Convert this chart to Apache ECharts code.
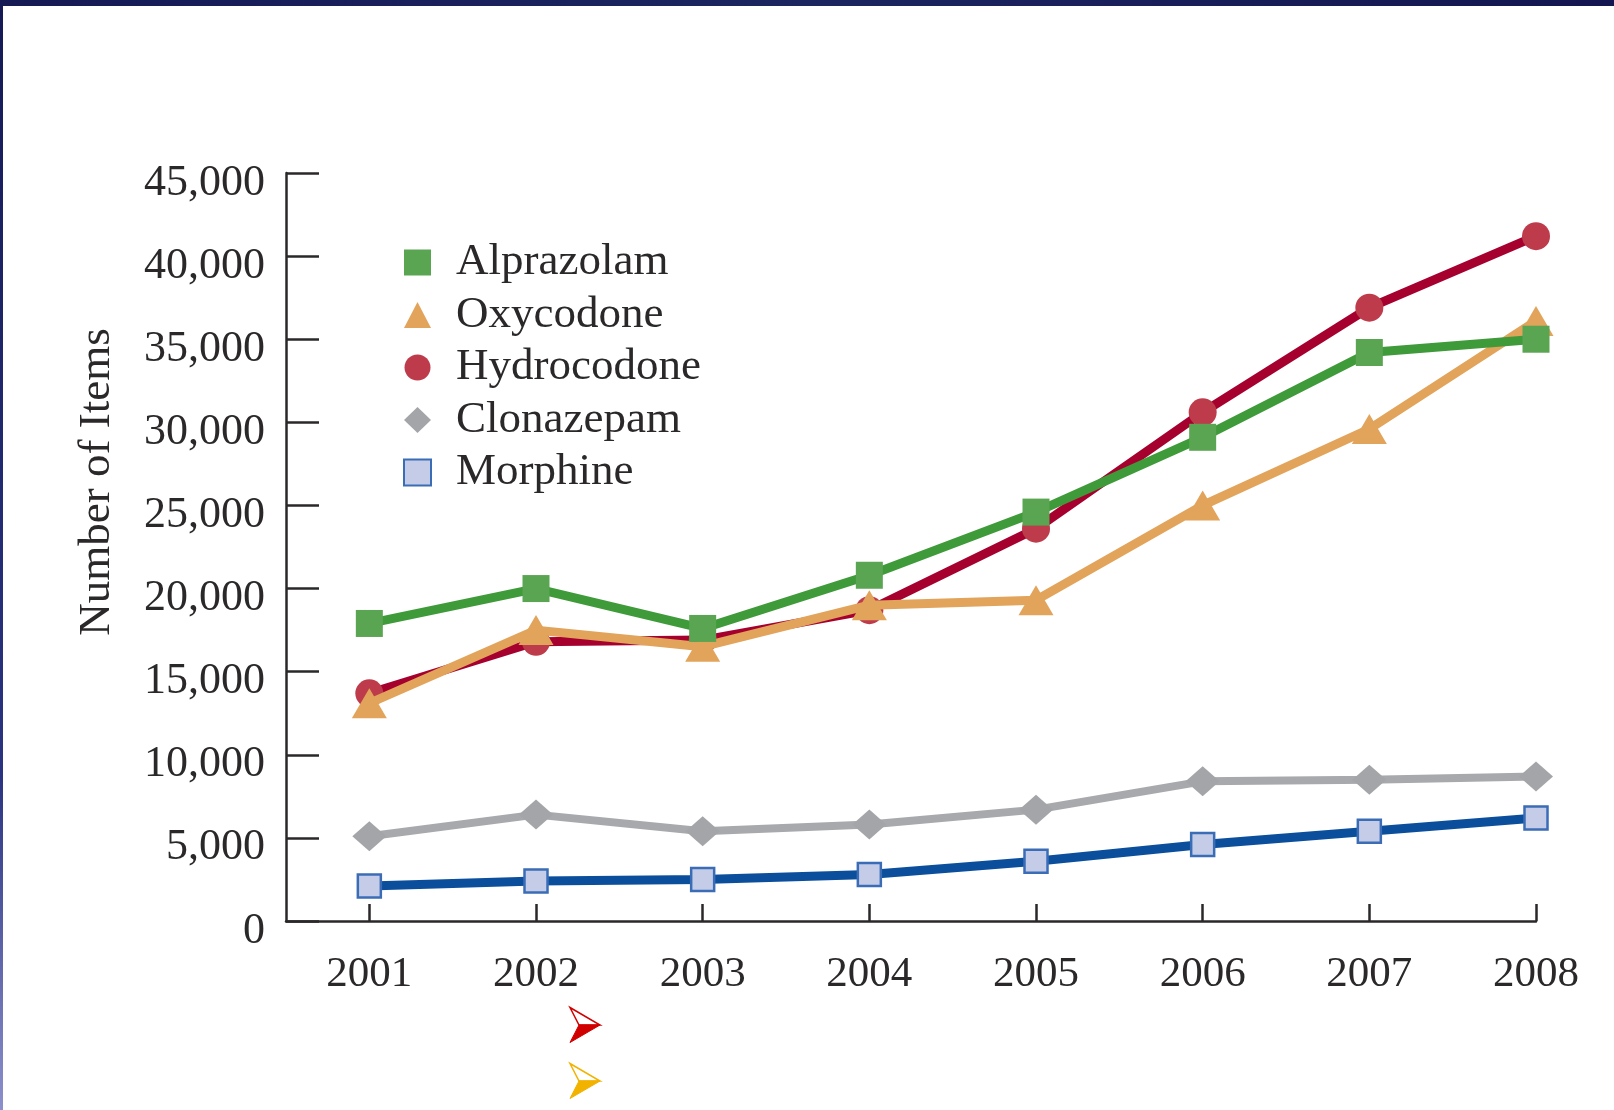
<!DOCTYPE html>
<html>
<head>
<meta charset="utf-8">
<title>Number of Items, 2001–2008</title>
<script src="https://cdn.jsdelivr.net/npm/echarts@6/dist/echarts.min.js"></script>
<style>
  html, body { margin: 0; padding: 0; background: #ffffff; }
  #chart { width: 1614px; height: 1110px; }
</style>
</head>
<body>
<div id="chart"></div>
<script>
// Years on the horizontal axis
const years = [2001, 2002, 2003, 2004, 2005, 2006, 2007, 2008];

// Number of items per drug and year
const alprazolam  = [17900, 20000, 17600, 20800, 24600, 29100, 34200, 35000];
const oxycodone   = [13100, 17500, 16500, 19000, 19300, 25000, 29600, 36100];
const hydrocodone = [13700, 16800, 16900, 18700, 23600, 30600, 36900, 41200];
const clonazepam  = [5100, 6400, 5400, 5800, 6700, 8400, 8500, 8700];
const morphine    = [2100, 2400, 2500, 2800, 3600, 4600, 5400, 6200];

// Vertical axis ticks
const yTicks = [0, 5000, 10000, 15000, 20000, 25000, 30000, 35000, 40000, 45000];

// Legend entries, top to bottom, with their marker shapes
const legendOrder = ['Alprazolam', 'Oxycodone', 'Hydrocodone', 'Clonazepam', 'Morphine'];
const legendIcons = ['rect', 'triangle', 'circle', 'diamond', 'rect'];

const FONT = '"Liberation Serif", "DejaVu Serif", serif';
const INK = '#2b2829';

const pairs = arr => arr.map((v, i) => [years[i], v]);

const chart = echarts.init(document.getElementById('chart'), null, { renderer: 'canvas' });

function series(name, data, lineColor, lineWidth, symbol, size, itemStyle, z) {
  return {
    name, type: 'line', data: pairs(data), z,
    symbol, symbolSize: size, showSymbol: true,
    lineStyle: { color: lineColor, width: lineWidth },
    itemStyle,
    emphasis: { disabled: true },
    animation: false
  };
}

// Two-tone bullet arrowhead (outlined upper half, filled lower half)
function arrowHead(x, y, color) {
  const w = 30, h = 35, nx = 9;
  return [
    { type: 'polygon', shape: { points: [[x, y - h / 2], [x + w, y], [x + nx, y]] },
      style: { fill: '#ffffff', stroke: color, lineWidth: 1.5 } },
    { type: 'polygon', shape: { points: [[x + nx, y], [x + w, y], [x, y + h / 2]] },
      style: { fill: color, stroke: color, lineWidth: 1 } }
  ];
}

const option = {
  backgroundColor: '#ffffff',
  animation: false,
  textStyle: { fontFamily: FONT },
  grid: { left: 286, right: 78, top: 173, bottom: 189, containLabel: false },
  legend: {
    data: legendOrder.map((n, i) => ({ name: n, icon: legendIcons[i] })),
    orient: 'vertical',
    left: 398, top: 235,
    itemWidth: 27, itemHeight: 26, itemGap: 7.5,
    selectedMode: false,
    textStyle: { fontFamily: FONT, fontSize: 45, color: INK, lineHeight: 44, padding: [0, 0, 0, 20] }
  },
  xAxis: {
    type: 'value', min: 2000.5, max: 2008,
    axisLine: { show: true, lineStyle: { color: INK, width: 2.5 } },
    axisTick: { show: true, inside: true, length: 17, customValues: years,
                lineStyle: { color: INK, width: 2.5 } },
    axisLabel: { customValues: years, margin: 32, fontFamily: FONT, fontSize: 43, color: INK,
                 formatter: v => String(v) },
    splitLine: { show: false }
  },
  yAxis: {
    type: 'value', min: 0, max: 45000, interval: 5000,
    axisLine: { show: true, lineStyle: { color: INK, width: 2.5 } },
    axisTick: { show: true, inside: true, length: 33, customValues: yTicks,
                lineStyle: { color: INK, width: 2.5 } },
    axisLabel: { customValues: yTicks, margin: 21, fontFamily: FONT, fontSize: 44, color: INK,
                 verticalAlign: 'top', lineHeight: 20,
                 formatter: v => v.toLocaleString('en-US') },
    splitLine: { show: false }
  },
  series: [
    series('Morphine', morphine, '#0b4f9c', 9, 'rect', 23,
           { color: '#c4cce8', borderColor: '#3b6cb6', borderWidth: 2.5 }, 2),
    series('Clonazepam', clonazepam, '#a7a9ac', 8, 'diamond', [34, 30],
           { color: '#a3a5a8' }, 3),
    series('Hydrocodone', hydrocodone, '#a6002f', 9, 'circle', 28,
           { color: '#bd3b4a' }, 4),
    series('Oxycodone', oxycodone, '#e2a35b', 9, 'triangle', [35, 30],
           { color: '#e2a35b' }, 5),
    series('Alprazolam', alprazolam, '#3f9a3a', 9, 'rect', 27,
           { color: '#5aa552' }, 6)
  ],
  graphic: [
    // navy frame along the top and left edges
    { type: 'rect', left: 0, top: 0, shape: { width: 1614, height: 6 },
      style: { fill: new echarts.graphic.LinearGradient(0, 0, 1, 0, [
        { offset: 0, color: '#151a55' }, { offset: 0.5, color: '#1c2560' }, { offset: 1, color: '#131650' }]) },
      z: 100 },
    { type: 'rect', left: 0, top: 0, shape: { width: 3, height: 1110 },
      style: { fill: new echarts.graphic.LinearGradient(0, 0, 0, 1, [
        { offset: 0, color: '#151a55' }, { offset: 0.7, color: '#2a3480' }, { offset: 1, color: '#8c90cc' }]) },
      z: 100 },
    {
      type: 'text', x: 97, y: 482, rotation: Math.PI / 2,
      style: { text: 'Number of Items', fontFamily: FONT, fontSize: 45, fill: INK,
               align: 'center', verticalAlign: 'middle' }
    },
    ...arrowHead(570, 1025, '#d10000'),
    ...arrowHead(570, 1081, '#f2b200')
  ]
};

chart.setOption(option);
</script>
</body>
</html>
